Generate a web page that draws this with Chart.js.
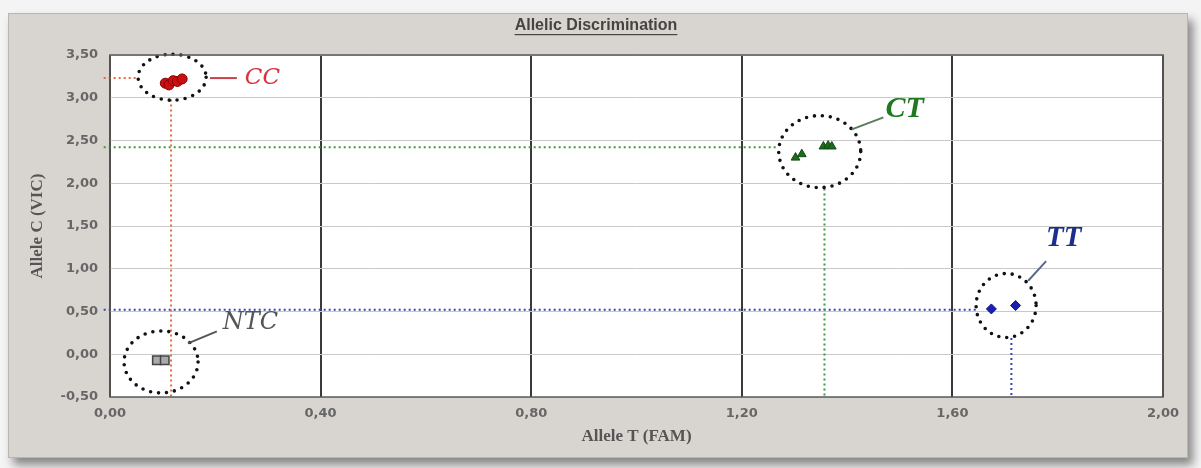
<!DOCTYPE html>
<html>
<head>
<meta charset="utf-8">
<script src="https://cdn.jsdelivr.net/npm/chart.js@4.4.1/dist/chart.umd.min.js"></script>
<style>
    html, body { margin: 0; padding: 0; }
    body { width: 1201px; height: 468px; background: #f4f4f4; position: relative; overflow: hidden; }
    #panel {
        position: absolute; left: 8px; top: 13px; width: 1178px; height: 443px;
        background: #d8d5d0; border: 1px solid #b9b6b1;
        box-shadow: 5px 7px 9px rgba(0, 0, 0, 0.45);
    }
    #chart { position: absolute; left: 0; top: 0; }
</style>
</head>
<body>
<div id="panel"></div>
<canvas id="chart" width="1201" height="468"></canvas>
<script>
// Valores (x = Allele T (FAM), y = Allele C (VIC))
const ccX = [0.105, 0.112, 0.120, 0.128, 0.137];
const ccY = [3.17, 3.15, 3.20, 3.19, 3.22];
const ctX = [1.302, 1.314, 1.355, 1.364, 1.371];
const ctY = [2.30, 2.34, 2.43, 2.44, 2.43];
const ttX = [1.674, 1.720];
const ttY = [0.53, 0.57];
const ntcX = [0.089, 0.104];
const ntcY = [-0.07, -0.07];

const xTicks = [0, 0.4, 0.8, 1.2, 1.6, 2.0];
const yTicks = [-0.5, 0, 0.5, 1.0, 1.5, 2.0, 2.5, 3.0, 3.5];

// Linhas pontilhadas de referência (em unidades dos eixos)
const guideRedH = [{x: -0.012, y: 3.23}, {x: 0.053, y: 3.23}];
const guideRedV = [{x: 0.116, y: 2.98}, {x: 0.116, y: -0.5}];
const guideGreenH = [{x: -0.012, y: 2.42}, {x: 1.27, y: 2.42}];
const guideGreenV = [{x: 1.357, y: 1.94}, {x: 1.357, y: -0.5}];
const guideBlueH = [{x: -0.012, y: 0.52}, {x: 1.645, y: 0.52}];
const guideBlueV = [{x: 1.712, y: 0.19}, {x: 1.712, y: -0.5}];

// Grupos: centro do círculo, rótulo e linha de chamada
const groups = [
    {name: 'CC', cx: 0.118, cy: 3.24, rx: 34, ry: 23, lx: 0.256, ly: 3.23, from: [0.19, 3.23], to: [0.241, 3.23],
     color: '#d9333f', line: '#c8404a', font: 'italic 23px "DejaVu Serif"'},
    {name: 'CT', cx: 1.348, cy: 2.37, rx: 41, ry: 36, lx: 1.473, ly: 2.86, from: [1.409, 2.63], to: [1.469, 2.77],
     color: '#1f7a1f', line: '#5c7a5c', font: 'bold italic 30px "Liberation Serif"'},
    {name: 'TT', cx: 1.702, cy: 0.57, rx: 30, ry: 32, lx: 1.778, ly: 1.35, from: [1.744, 0.86], to: [1.778, 1.09],
     color: '#1c2f8a', line: '#5a6a8a', font: 'bold italic 29px "Liberation Serif"'},
    {name: 'NTC', cx: 0.097, cy: -0.09, rx: 37, ry: 31, lx: 0.214, ly: 0.37, from: [0.148, 0.128], to: [0.203, 0.267],
     color: '#555555', line: '#555555', font: 'italic 24px "DejaVu Serif"'}
];

const toPoints = (xs, ys) => xs.map((x, i) => ({x: x, y: ys[i]}));
const fmt = (v) => v.toFixed(2).replace('.', ',');

const annotations = {
    id: 'annotations',
    beforeDraw(chart) {
        // fundo branco da área do gráfico
        const a = chart.chartArea;
        chart.ctx.save();
        chart.ctx.fillStyle = '#ffffff';
        chart.ctx.fillRect(a.left, a.top, a.right - a.left, a.bottom - a.top);
        chart.ctx.restore();
    },
    afterDatasetsDraw(chart) {
        const ctx = chart.ctx;
        const sx = chart.scales.x, sy = chart.scales.y;
        ctx.save();
        groups.forEach(g => {
            // círculo pontilhado
            ctx.beginPath();
            ctx.ellipse(sx.getPixelForValue(g.cx), sy.getPixelForValue(g.cy), g.rx, g.ry, 0, 0, Math.PI * 2);
            ctx.setLineDash([0, 8]);
            ctx.lineCap = 'round';
            ctx.lineWidth = 3.6;
            ctx.strokeStyle = '#111';
            ctx.stroke();
            // linha de chamada
            ctx.setLineDash([]);
            ctx.lineCap = 'butt';
            ctx.lineWidth = 2;
            ctx.strokeStyle = g.line;
            ctx.beginPath();
            ctx.moveTo(sx.getPixelForValue(g.from[0]), sy.getPixelForValue(g.from[1]));
            ctx.lineTo(sx.getPixelForValue(g.to[0]), sy.getPixelForValue(g.to[1]));
            ctx.stroke();
            // rótulo
            ctx.font = g.font;
            ctx.fillStyle = g.color;
            ctx.textAlign = 'left';
            ctx.textBaseline = 'middle';
            ctx.fillText(g.name, sx.getPixelForValue(g.lx), sy.getPixelForValue(g.ly));
        });
        ctx.restore();
    },
    afterDraw(chart) {
        const ctx = chart.ctx;
        const a = chart.chartArea;
        ctx.save();
        // borda do gráfico
        ctx.strokeStyle = '#5a5a5a';
        ctx.lineWidth = 1.5;
        ctx.strokeRect(a.left, a.top, a.right - a.left, a.bottom - a.top);
        // título sublinhado
        const title = 'Allelic Discrimination';
        ctx.font = 'bold 16px "Liberation Sans"';
        ctx.fillStyle = '#444';
        ctx.textAlign = 'center';
        ctx.textBaseline = 'middle';
        const cx = 596;
        ctx.fillText(title, cx, 26);
        const w = ctx.measureText(title).width;
        ctx.fillRect(cx - w / 2, 34, w, 1.2);
        ctx.restore();
    }
};

const guide = (label, data, color) => ({
    label: label, data: data, showLine: true, borderColor: color, borderWidth: 2, borderDash: [2, 3],
    pointRadius: 0, fill: false, clip: false, order: 5
});

const tickFont = { family: 'DejaVu Sans', size: 13, weight: 'bold' };
const titleFont = { family: 'Liberation Serif', size: 17, weight: 'bold' };

new Chart(document.getElementById('chart'), {
    type: 'scatter',
    data: {
        datasets: [
            guide('guia CC h', guideRedH, '#e66a45'),
            guide('guia CC v', guideRedV, '#e66a45'),
            guide('guia CT h', guideGreenH, '#3c9a3c'),
            guide('guia CT v', guideGreenV, '#3c9a3c'),
            guide('guia TT h', guideBlueH, '#3a44b0'),
            guide('guia TT v', guideBlueV, '#3a44b0'),
            {label: 'CC', data: toPoints(ccX, ccY), pointStyle: 'circle', pointRadius: 5,
             backgroundColor: '#c81010', borderColor: '#8a0000', borderWidth: 1, order: 1},
            {label: 'CT', data: toPoints(ctX, ctY), pointStyle: 'triangle', pointRadius: 5,
             backgroundColor: '#1d6b1d', borderColor: '#124812', borderWidth: 1, order: 1},
            {label: 'TT', data: toPoints(ttX, ttY), pointStyle: 'rectRot', pointRadius: 5,
             backgroundColor: '#1b1fb0', borderColor: '#10138a', borderWidth: 1, order: 1},
            {label: 'NTC', data: toPoints(ntcX, ntcY), pointStyle: 'rect', pointRadius: 6,
             backgroundColor: '#a9a9a9', borderColor: '#444', borderWidth: 1.5, order: 1}
        ]
    },
    options: {
        responsive: false,
        animation: false,
        layout: { padding: { top: 55, right: 38, left: 0, bottom: 0 } },
        plugins: { legend: { display: false }, tooltip: { enabled: false } },
        scales: {
            x: {
                type: 'linear', min: 0, max: 2,
                afterFit: (scale) => { scale.height = 71; },
                afterBuildTicks: (scale) => { scale.ticks = xTicks.map(v => ({value: v})); },
                grid: { color: '#3a3a3a', lineWidth: 2, drawTicks: false },
                border: { display: false },
                ticks: { padding: 9, color: '#666', font: tickFont, callback: (v) => fmt(v), maxRotation: 0 },
                title: { display: true, text: 'Allele T (FAM)', color: '#555', font: titleFont, padding: { bottom: 21 } }
            },
            y: {
                type: 'linear', min: -0.5, max: 3.5,
                afterFit: (scale) => { scale.width = 110; },
                afterBuildTicks: (scale) => { scale.ticks = yTicks.map(v => ({value: v})); },
                grid: { color: '#c9c9c9', lineWidth: 1, drawTicks: false },
                border: { display: false },
                ticks: { padding: 12, color: '#666', font: tickFont, callback: (v) => fmt(v) },
                title: { display: true, text: 'Allele C (VIC)', color: '#555', font: titleFont, padding: { top: 27 } }
            }
        }
    },
    plugins: [annotations]
});
</script>
</body>
</html>
